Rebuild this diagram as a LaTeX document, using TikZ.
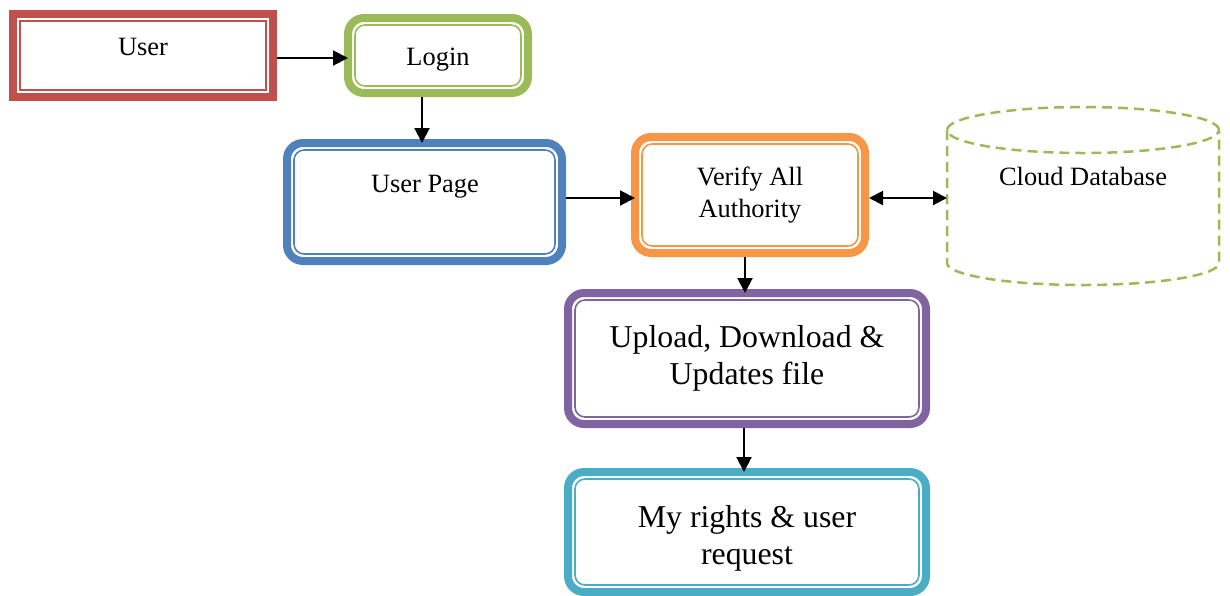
\documentclass[tikz,border=0pt]{standalone}
\usepackage{fontspec}
\setmainfont{Liberation Serif}
\usetikzlibrary{arrows.meta,calc}
\definecolor{cred}{HTML}{C0504D}
\definecolor{cgreen}{HTML}{9BBB59}
\definecolor{cblue}{HTML}{4F81BD}
\definecolor{corange}{HTML}{F79646}
\definecolor{cpurple}{HTML}{8064A2}
\definecolor{caqua}{HTML}{4BACC6}
\newcommand\innerframe[3]{%
  \draw[#2, line width=1.6pt, #3] ($(#1.north west)+(11,11)$) rectangle ($(#1.south east)+(-11,-11)$);}
\tikzset{
  box/.style={draw=#1, line width=8pt, inner sep=0pt, fill=white},
  rbox/.style={box=#1, rounded corners=16pt},
  arr/.style={line width=2pt, -{Triangle[length=15pt,width=15pt]}, shorten >=-4pt},
  arrtwo/.style={line width=2pt, {Triangle[length=14pt,width=14pt]}-{Triangle[length=14pt,width=14pt]}},
  txts/.style={font=\fontsize{26.4}{32}\selectfont, inner sep=0pt, align=center},
  txtb/.style={font=\fontsize{31.8}{37}\selectfont, inner sep=0pt, align=center},
  dbl/.style={draw=cgreen, line width=2.5pt, dash pattern=on 10pt off 6pt},
}
\begin{document}
\begin{tikzpicture}[x=1pt,y=-1pt]
\useasboundingbox (0,0) rectangle (1230,595);
\clip (0,0) rectangle (1230,595);
% boxes
\node[box=cred, minimum width=260pt, minimum height=83pt] (user) at (143,55.5) {};
\innerframe{user}{cred}{sharp corners}
\node[txts] (userT) at (143,47) {User};

\node[rbox=cgreen, minimum width=180pt, minimum height=75pt] (login) at (438,55.5) {};
\innerframe{login}{cgreen}{rounded corners=10pt}
\node[txts] (loginT) at (438,60) {Login};

\node[rbox=cblue, minimum width=275pt, minimum height=118pt] (userpage) at (424.5,202) {};
\innerframe{userpage}{cblue}{rounded corners=10pt}
\node[txts] (userpageT) at (425,186.5) {User Page};

\node[rbox=corange, minimum width=230pt, minimum height=116pt] (verify) at (750,195) {};
\innerframe{verify}{corange}{rounded corners=10pt}
\node[txts] (verifyT) at (750,195) {Verify All\\Authority};

\node[rbox=cpurple, minimum width=358pt, minimum height=131pt] (upload) at (747,358.5) {};
\innerframe{upload}{cpurple}{rounded corners=10pt}
\node[txtb] (uploadT) at (747,358) {Upload, Download \&\\Updates file};

\node[rbox=caqua, minimum width=358pt, minimum height=120pt] (myrights) at (747,532) {};
\innerframe{myrights}{caqua}{rounded corners=10pt}
\node[txtb] (myrightsT) at (747,538) {My rights \& user\\request};

% cloud database cylinder
\node[minimum width=272pt, minimum height=178pt, inner sep=0pt, outer sep=0pt] (db) at (1083,196) {};
\draw[dbl] ($(db.center)+(0,-66)$) ellipse [x radius=136pt, y radius=23pt];
\draw[dbl] ($(db.center)+(-136,-66)$) -- ($(db.center)+(-136,67)$)
  arc[start angle=180, end angle=360, x radius=136pt, y radius=22pt]
  -- ($(db.center)+(136,-66)$);
\node[txts] (dbT) at (1083,176.5) {Cloud Database};

% connectors
\draw[arr] ([yshift=-2.5pt]user.east) -- ([yshift=-2.5pt]user.east -| login.west);
\draw[arr] ([xshift=-16pt]login.south) -- ([xshift=-16pt]login.south |- userpage.north);
\draw[arr] ([yshift=4pt]userpage.east) -- ([yshift=4pt]userpage.east -| verify.west);
\draw[arrtwo] ([yshift=-3pt]verify.east) -- ([yshift=-3pt]verify.east -| db.west);
\draw[arr] ([xshift=-5pt]verify.south) -- ([xshift=-5pt]verify.south |- upload.north);
\draw[arr] ([xshift=-3pt]upload.south) -- ([xshift=-3pt]upload.south |- myrights.north);
\end{tikzpicture}
\end{document}
